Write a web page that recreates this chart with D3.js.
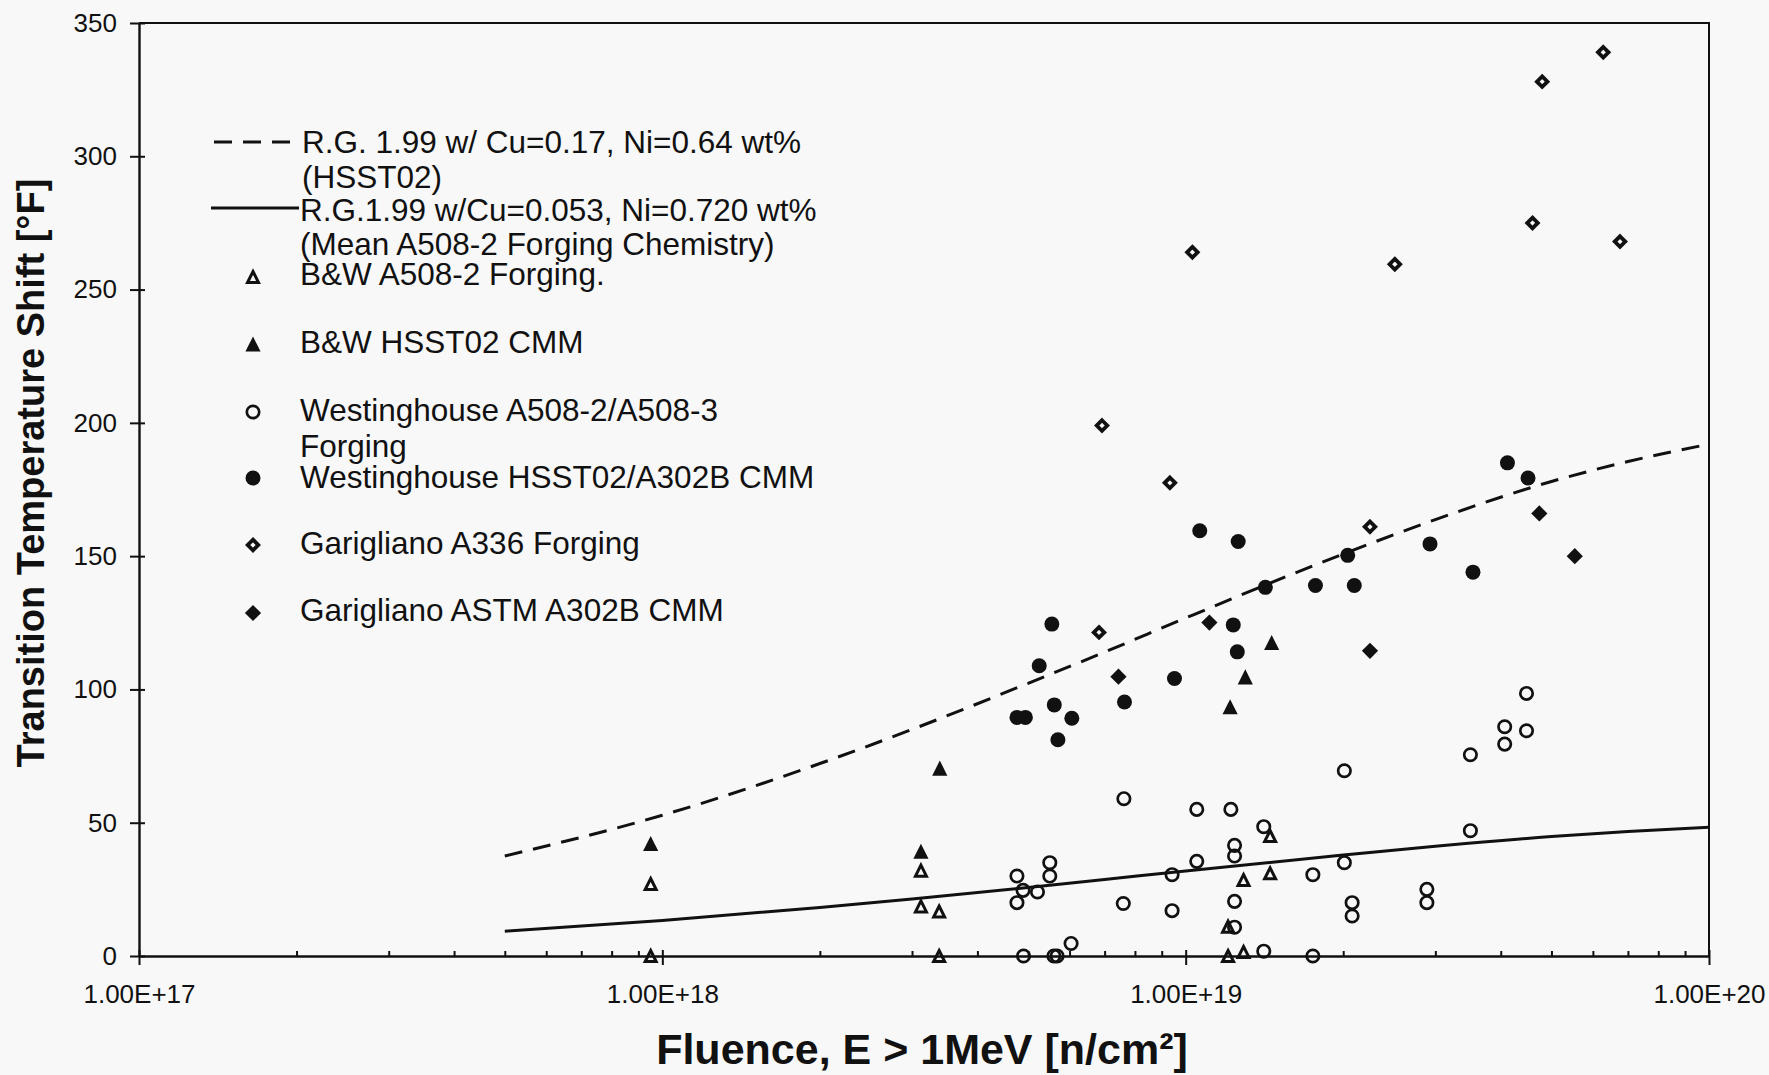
<!DOCTYPE html>
<html>
<head>
<meta charset="utf-8">
<script src="https://cdn.jsdelivr.net/npm/d3@7"></script>
<style>
  html, body { margin: 0; padding: 0; background: #f8f8f8; }
  svg { display: block; }
  text { font-family: "Liberation Sans", Arial, Helvetica, sans-serif; fill: #111; }
</style>
</head>
<body>
<svg id="chart" width="1769" height="1075"></svg>
<script>
// ---- Axis ticks ----
const fluenceDecades = [1e17, 1e18, 1e19, 1e20];
const fluenceTickLabels = ["1.00E+17", "1.00E+18", "1.00E+19", "1.00E+20"];
const shiftTicks = [0, 50, 100, 150, 200, 250, 300, 350];

// ---- Regulatory Guide 1.99 trend curves (fluence in n/cm², shift in °F) ----
const curveFluence = [5e17, 1e18, 2e18, 3e18, 5e18, 7e18, 1e19, 2e19, 3e19, 5e19, 7e19, 1e20];
const hsst02CurveShift = [37.5, 52.8, 72.2, 85.0, 102.3, 114.0, 126.8, 150.8, 163.7, 178.0, 185.5, 192.0];
const a508CurveShift = [9.3, 13.3, 18.2, 21.4, 25.7, 28.7, 31.9, 37.9, 41.2, 44.8, 46.7, 48.3];

// ---- B&W A508-2 Forging ----
const bwForgingFluence = [9.5e17, 9.5e17, 3.12e18, 3.12e18, 3.38e18, 3.38e18, 1.205e19, 1.205e19, 1.29e19, 1.29e19, 1.45e19, 1.45e19];
const bwForgingShift   = [27, 0, 32, 18.6, 16.7, 0, 11, 0, 28.5, 1.5, 31, 45];

// ---- B&W HSST02 CMM ----
const bwCmmFluence = [9.5e17, 3.12e18, 3.39e18, 1.216e19, 1.30e19, 1.46e19];
const bwCmmShift   = [42.2, 39.3, 70.5, 93.5, 104.7, 117.6];

// ---- Westinghouse A508-2/A508-3 Forging ----
const wForgingFluence = [4.76e18, 4.76e18, 4.89e18, 5.21e18, 5.5e18, 5.5e18, 4.9e18, 5.6e18, 5.68e18, 6.04e18,
  7.62e18, 7.6e18, 9.42e18, 9.42e18, 1.05e19, 1.05e19, 1.22e19, 1.24e19, 1.24e19, 1.24e19, 1.24e19,
  1.41e19, 1.41e19, 1.75e19, 1.75e19, 2.01e19, 2.01e19, 2.08e19, 2.08e19, 2.89e19, 2.89e19,
  3.5e19, 3.5e19, 4.07e19, 4.07e19, 4.48e19, 4.48e19];
const wForgingShift = [30, 20, 24.6, 24, 35, 30, 0, 0, 0, 4.7,
  59, 19.7, 30.5, 17, 55, 35.5, 55, 41.5, 37.5, 20.5, 10.8,
  48.5, 1.8, 30.5, 0, 69.5, 35, 20, 15, 25, 20,
  75.5, 47, 86, 79.5, 98.5, 84.5];

// ---- Westinghouse HSST02/A302B CMM ----
const wCmmFluence = [4.76e18, 4.94e18, 5.25e18, 5.55e18, 5.61e18, 5.70e18, 6.06e18, 7.64e18, 9.52e18, 1.064e19,
  1.26e19, 1.233e19, 1.255e19, 1.42e19, 1.77e19, 2.04e19, 2.10e19, 2.93e19, 3.54e19, 4.12e19, 4.51e19];
const wCmmShift = [89.5, 89.5, 108.9, 124.5, 94.2, 81.1, 89.2, 95.3, 104.1, 159.5,
  155.5, 124.2, 114.1, 138.3, 139, 150.3, 139, 154.6, 144, 185, 179.3];

// ---- Garigliano A336 Forging ----
const gForgingFluence = [6.83e18, 6.92e18, 9.33e18, 1.03e19, 2.25e19, 2.51e19, 4.6e19, 4.8e19, 6.28e19, 6.76e19];
const gForgingShift   = [121.4, 199, 177.5, 264, 161, 259.5, 275, 328, 339, 268];

// ---- Garigliano ASTM A302B CMM ----
const gCmmFluence = [7.44e18, 1.11e19, 2.25e19, 4.74e19, 5.54e19];
const gCmmShift   = [104.8, 125.1, 114.5, 166, 150];

// ---- Layout ----
const svg = d3.select("#chart");
const plot = { left: 139, right: 1709, top: 23, bottom: 956 };

const x = d3.scaleLog().domain([1e17, 1e20]).range([plot.left, plot.right]);
const y = d3.scaleLinear().domain([0, 350]).range([plot.bottom, plot.top]);

svg.append("rect").attr("width", 1769).attr("height", 1075).attr("fill", "#f8f8f8");

// Symbol shapes: a square turned 45° and a triangle as tall as it is wide
const diamond = {
  draw(context, size) {
    const r = Math.sqrt(size / 2);
    context.moveTo(0, -r);
    context.lineTo(r, 0);
    context.lineTo(0, r);
    context.lineTo(-r, 0);
    context.closePath();
  }
};
const triangle = {
  draw(context, size) {
    const r = Math.sqrt(size) / 2;
    context.moveTo(0, -r);
    context.lineTo(r, r);
    context.lineTo(-r, r);
    context.closePath();
  }
};

const markerStyles = {
  openTriangle:  { type: triangle,          size: 121, fill: "none", stroke: "#111", width: 3.0 },
  filledTriangle:{ type: triangle,          size: 230, fill: "#111", stroke: "none", width: 0 },
  openCircle:    { type: d3.symbolCircle,   size: Math.PI * 6.2 * 6.2, fill: "none", stroke: "#111", width: 2.7 },
  filledCircle:  { type: d3.symbolCircle,   size: Math.PI * 7.5 * 7.5, fill: "#111", stroke: "none", width: 0 },
  openDiamond:   { type: diamond,           size: 56,  fill: "none", stroke: "#111", width: 3.8 },
  filledDiamond: { type: diamond,           size: 132, fill: "#111", stroke: "none", width: 0 }
};

const series = [
  { name: ["B&W A508-2 Forging."], fluence: bwForgingFluence, shift: bwForgingShift, marker: "openTriangle" },
  { name: ["B&W HSST02 CMM"], fluence: bwCmmFluence, shift: bwCmmShift, marker: "filledTriangle" },
  { name: ["Westinghouse A508-2/A508-3", "Forging"], fluence: wForgingFluence, shift: wForgingShift, marker: "openCircle" },
  { name: ["Westinghouse HSST02/A302B CMM"], fluence: wCmmFluence, shift: wCmmShift, marker: "filledCircle" },
  { name: ["Garigliano A336 Forging"], fluence: gForgingFluence, shift: gForgingShift, marker: "openDiamond" },
  { name: ["Garigliano ASTM A302B CMM"], fluence: gCmmFluence, shift: gCmmShift, marker: "filledDiamond" }
];

function symbolPath(key) {
  const s = markerStyles[key];
  return d3.symbol().type(s.type).size(s.size)();
}
function styleMarker(sel, key) {
  const s = markerStyles[key];
  sel.attr("d", symbolPath(key))
     .attr("fill", s.fill)
     .attr("stroke", s.stroke)
     .attr("stroke-width", s.width)
     .attr("stroke-linejoin", "miter");
}

// ---- Frame (top and right edges) ----
svg.append("path")
  .attr("d", `M${plot.left},${plot.top}H${plot.right}V${plot.bottom}`)
  .attr("fill", "none").attr("stroke", "#111").attr("stroke-width", 2);

// ---- Y axis ----
const yAxis = svg.append("g").attr("transform", `translate(${plot.left},0)`)
  .call(d3.axisLeft(y).tickValues(shiftTicks).tickSizeInner(9).tickSizeOuter(0).tickPadding(13));
svg.append("g").attr("transform", `translate(${plot.left},0)`)
  .call(d3.axisLeft(y).tickValues(shiftTicks).tickSize(-6).tickFormat(""))
  .call(g => g.select(".domain").remove());

// ---- X axis ----
const xAxis = svg.append("g").attr("transform", `translate(0,${plot.bottom})`)
  .call(d3.axisBottom(x).tickValues(fluenceDecades).tickSizeInner(9).tickSizeOuter(0).tickPadding(20)
    .tickFormat((d, i) => fluenceTickLabels[i]));
svg.append("g").attr("transform", `translate(0,${plot.bottom})`)
  .call(d3.axisBottom(x).tickValues(fluenceDecades).tickSize(-6).tickFormat(""))
  .call(g => g.select(".domain").remove());

const minorFluence = [];
[1e17, 1e18, 1e19].forEach(dec => { for (let k = 2; k <= 9; k++) minorFluence.push(k * dec); });
svg.append("g").attr("transform", `translate(0,${plot.bottom})`)
  .call(d3.axisBottom(x).tickValues(minorFluence).tickSize(-5).tickFormat(""))
  .call(g => g.select(".domain").remove());

svg.selectAll(".tick line").attr("stroke", "#111").attr("stroke-width", 2);
svg.selectAll(".domain").attr("stroke", "#111").attr("stroke-width", 2.4);
[xAxis, yAxis].forEach(g => g.attr("font-family", null).attr("font-size", null));
svg.selectAll(".tick text")
  .style("font-family", '"Liberation Sans", Arial, sans-serif')
  .style("font-size", "26px")
  .attr("fill", "#111");

// ---- Axis titles ----
svg.append("text")
  .attr("transform", "translate(44,473) rotate(-90)")
  .attr("text-anchor", "middle")
  .style("font-size", "38px").style("font-weight", "bold")
  .text("Transition Temperature Shift [°F]");

svg.append("text")
  .attr("x", 922).attr("y", 1064)
  .attr("text-anchor", "middle")
  .style("font-size", "43px").style("font-weight", "bold")
  .text("Fluence, E > 1MeV [n/cm²]");

// ---- Trend curves ----
const curveLine = d3.line()
  .x(d => x(d[0]))
  .y(d => y(d[1]))
  .curve(d3.curveMonotoneX);

svg.append("path")
  .datum(d3.zip(curveFluence, hsst02CurveShift))
  .attr("d", curveLine)
  .attr("fill", "none").attr("stroke", "#111").attr("stroke-width", 3)
  .attr("stroke-dasharray", "18 11");

svg.append("path")
  .datum(d3.zip(curveFluence, a508CurveShift))
  .attr("d", curveLine)
  .attr("fill", "none").attr("stroke", "#111").attr("stroke-width", 3);

// ---- Data points ----
series.forEach(s => {
  svg.append("g")
    .selectAll("path")
    .data(d3.zip(s.fluence, s.shift))
    .join("path")
    .attr("transform", d => `translate(${x(d[0])},${y(d[1])})`)
    .call(sel => styleMarker(sel, s.marker));
});

// ---- Legend ----
const legend = svg.append("g").style("font-size", "31.5px");
const lineEntries = [
  { dash: "18 11", lines: ["R.G. 1.99 w/ Cu=0.17, Ni=0.64 wt%", "(HSST02)"], sampleY: 142, sampleX: [214, 296], textY: [142, 177], textX: 302 },
  { dash: null, lines: ["R.G.1.99 w/Cu=0.053, Ni=0.720 wt%", "(Mean A508-2 Forging Chemistry)"], sampleY: 208, sampleX: [211, 299], textY: [210, 244], textX: 300 }
];
lineEntries.forEach(e => {
  legend.append("line")
    .attr("x1", e.sampleX[0]).attr("x2", e.sampleX[1])
    .attr("y1", e.sampleY).attr("y2", e.sampleY)
    .attr("stroke", "#111").attr("stroke-width", 3)
    .attr("stroke-dasharray", e.dash);
  e.lines.forEach((t, i) => {
    legend.append("text").attr("x", e.textX).attr("y", e.textY[i]).attr("dy", "0.36em").text(t);
  });
});

const markerRows = [
  { markerY: 277, textY: [274] },
  { markerY: 344, textY: [342] },
  { markerY: 412, textY: [410, 446] },
  { markerY: 478, textY: [477] },
  { markerY: 545, textY: [543] },
  { markerY: 613, textY: [610] }
];
series.forEach((s, i) => {
  const row = markerRows[i];
  legend.append("path")
    .attr("transform", `translate(253,${row.markerY})`)
    .call(sel => styleMarker(sel, s.marker));
  s.name.forEach((t, j) => {
    legend.append("text").attr("x", 300).attr("y", row.textY[j]).attr("dy", "0.36em").text(t);
  });
});
</script>
</body>
</html>
